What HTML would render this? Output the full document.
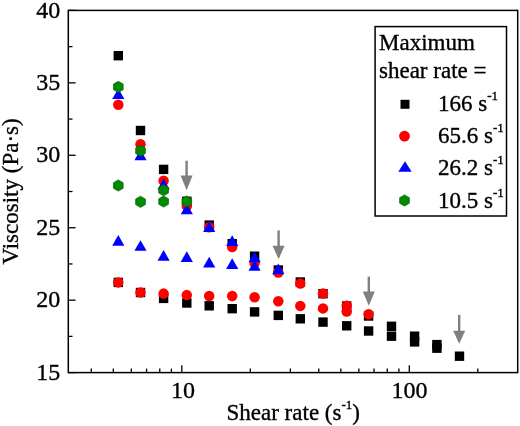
<!DOCTYPE html>
<html><head><meta charset="utf-8"><style>
html,body{margin:0;padding:0;background:#fff;}
svg{display:block;will-change:transform;}
text{font-family:"Liberation Serif",serif;font-size:23px;fill:#000;stroke:#000;stroke-width:0.35px;}
</style></head><body>
<svg width="520" height="426" viewBox="0 0 520 426">
<rect x="68.3" y="10.4" width="449.40000000000003" height="362.20000000000005" fill="none" stroke="#000" stroke-width="1.5"/>
<line x1="68.3" y1="372.60" x2="75.60" y2="372.60" stroke="#000" stroke-width="1.3"/>
<text x="60.3" y="379.70" text-anchor="end" style="font-size:24px">15</text>
<line x1="68.3" y1="300.16" x2="75.60" y2="300.16" stroke="#000" stroke-width="1.3"/>
<text x="60.3" y="307.26" text-anchor="end" style="font-size:24px">20</text>
<line x1="68.3" y1="227.72" x2="75.60" y2="227.72" stroke="#000" stroke-width="1.3"/>
<text x="60.3" y="234.82" text-anchor="end" style="font-size:24px">25</text>
<line x1="68.3" y1="155.28" x2="75.60" y2="155.28" stroke="#000" stroke-width="1.3"/>
<text x="60.3" y="162.38" text-anchor="end" style="font-size:24px">30</text>
<line x1="68.3" y1="82.84" x2="75.60" y2="82.84" stroke="#000" stroke-width="1.3"/>
<text x="60.3" y="89.94" text-anchor="end" style="font-size:24px">35</text>
<line x1="68.3" y1="10.40" x2="75.60" y2="10.40" stroke="#000" stroke-width="1.3"/>
<text x="60.3" y="17.50" text-anchor="end" style="font-size:24px">40</text>
<line x1="68.3" y1="336.38" x2="72.50" y2="336.38" stroke="#000" stroke-width="1.3"/>
<line x1="68.3" y1="263.94" x2="72.50" y2="263.94" stroke="#000" stroke-width="1.3"/>
<line x1="68.3" y1="191.50" x2="72.50" y2="191.50" stroke="#000" stroke-width="1.3"/>
<line x1="68.3" y1="119.06" x2="72.50" y2="119.06" stroke="#000" stroke-width="1.3"/>
<line x1="68.3" y1="46.62" x2="72.50" y2="46.62" stroke="#000" stroke-width="1.3"/>
<line x1="91.27" y1="372.6" x2="91.27" y2="368.60" stroke="#000" stroke-width="1.3"/>
<line x1="113.32" y1="372.6" x2="113.32" y2="368.60" stroke="#000" stroke-width="1.3"/>
<line x1="131.33" y1="372.6" x2="131.33" y2="368.60" stroke="#000" stroke-width="1.3"/>
<line x1="146.56" y1="372.6" x2="146.56" y2="368.60" stroke="#000" stroke-width="1.3"/>
<line x1="159.75" y1="372.6" x2="159.75" y2="368.60" stroke="#000" stroke-width="1.3"/>
<line x1="171.39" y1="372.6" x2="171.39" y2="368.60" stroke="#000" stroke-width="1.3"/>
<line x1="181.80" y1="372.6" x2="181.80" y2="365.30" stroke="#000" stroke-width="1.3"/>
<line x1="250.28" y1="372.6" x2="250.28" y2="368.60" stroke="#000" stroke-width="1.3"/>
<line x1="290.35" y1="372.6" x2="290.35" y2="368.60" stroke="#000" stroke-width="1.3"/>
<line x1="318.77" y1="372.6" x2="318.77" y2="368.60" stroke="#000" stroke-width="1.3"/>
<line x1="340.82" y1="372.6" x2="340.82" y2="368.60" stroke="#000" stroke-width="1.3"/>
<line x1="358.83" y1="372.6" x2="358.83" y2="368.60" stroke="#000" stroke-width="1.3"/>
<line x1="374.06" y1="372.6" x2="374.06" y2="368.60" stroke="#000" stroke-width="1.3"/>
<line x1="387.25" y1="372.6" x2="387.25" y2="368.60" stroke="#000" stroke-width="1.3"/>
<line x1="398.89" y1="372.6" x2="398.89" y2="368.60" stroke="#000" stroke-width="1.3"/>
<line x1="409.30" y1="372.6" x2="409.30" y2="365.30" stroke="#000" stroke-width="1.3"/>
<line x1="477.78" y1="372.6" x2="477.78" y2="368.60" stroke="#000" stroke-width="1.3"/>
<text x="182.9" y="398.4" text-anchor="middle" style="font-size:24px">10</text>
<text x="409.5" y="398.4" text-anchor="middle" style="font-size:24px">100</text>
<text x="226.5" y="419.8">Shear rate (s<tspan style="font-size:13px" dy="-11">-1</tspan><tspan dy="11">)</tspan></text>
<text transform="translate(17.5,264.5) rotate(-90)">Viscosity (Pa·s)</text>
<rect x="113.60" y="51.00" width="9.4" height="9.4" fill="#000"/>
<rect x="135.80" y="125.80" width="9.4" height="9.4" fill="#000"/>
<rect x="158.90" y="164.70" width="9.4" height="9.4" fill="#000"/>
<rect x="182.10" y="196.60" width="9.4" height="9.4" fill="#000"/>
<rect x="204.50" y="220.40" width="9.4" height="9.4" fill="#000"/>
<rect x="227.50" y="239.00" width="9.4" height="9.4" fill="#000"/>
<rect x="249.90" y="251.50" width="9.4" height="9.4" fill="#000"/>
<rect x="273.60" y="265.30" width="9.4" height="9.4" fill="#000"/>
<rect x="295.60" y="277.30" width="9.4" height="9.4" fill="#000"/>
<rect x="318.30" y="289.00" width="9.4" height="9.4" fill="#000"/>
<rect x="342.00" y="301.30" width="9.4" height="9.4" fill="#000"/>
<rect x="363.90" y="311.30" width="9.4" height="9.4" fill="#000"/>
<rect x="386.80" y="321.60" width="9.4" height="9.4" fill="#000"/>
<rect x="409.90" y="331.50" width="9.4" height="9.4" fill="#000"/>
<rect x="432.20" y="339.90" width="9.4" height="9.4" fill="#000"/>
<rect x="454.80" y="351.50" width="9.4" height="9.4" fill="#000"/>
<rect x="113.60" y="277.70" width="9.4" height="9.4" fill="#000"/>
<rect x="135.80" y="287.80" width="9.4" height="9.4" fill="#000"/>
<rect x="158.90" y="293.70" width="9.4" height="9.4" fill="#000"/>
<rect x="182.10" y="298.30" width="9.4" height="9.4" fill="#000"/>
<rect x="204.50" y="301.10" width="9.4" height="9.4" fill="#000"/>
<rect x="227.50" y="304.00" width="9.4" height="9.4" fill="#000"/>
<rect x="249.90" y="307.20" width="9.4" height="9.4" fill="#000"/>
<rect x="273.60" y="310.70" width="9.4" height="9.4" fill="#000"/>
<rect x="295.60" y="314.10" width="9.4" height="9.4" fill="#000"/>
<rect x="318.30" y="317.40" width="9.4" height="9.4" fill="#000"/>
<rect x="342.00" y="321.10" width="9.4" height="9.4" fill="#000"/>
<rect x="363.90" y="326.30" width="9.4" height="9.4" fill="#000"/>
<rect x="386.80" y="331.50" width="9.4" height="9.4" fill="#000"/>
<rect x="409.90" y="337.20" width="9.4" height="9.4" fill="#000"/>
<rect x="432.20" y="343.50" width="9.4" height="9.4" fill="#000"/>
<circle cx="118.30" cy="104.70" r="5.25" fill="#f00"/>
<circle cx="140.50" cy="144.20" r="5.25" fill="#f00"/>
<circle cx="163.60" cy="180.80" r="5.25" fill="#f00"/>
<circle cx="186.80" cy="206.00" r="5.25" fill="#f00"/>
<circle cx="209.20" cy="227.30" r="5.25" fill="#f00"/>
<circle cx="232.20" cy="247.00" r="5.25" fill="#f00"/>
<circle cx="254.60" cy="263.00" r="5.25" fill="#f00"/>
<circle cx="278.30" cy="272.50" r="5.25" fill="#f00"/>
<circle cx="300.30" cy="283.50" r="5.25" fill="#f00"/>
<circle cx="323.00" cy="293.50" r="5.25" fill="#f00"/>
<circle cx="346.70" cy="305.70" r="5.25" fill="#f00"/>
<circle cx="368.60" cy="314.20" r="5.25" fill="#f00"/>
<circle cx="118.30" cy="282.40" r="5.25" fill="#f00"/>
<circle cx="140.50" cy="292.50" r="5.25" fill="#f00"/>
<circle cx="163.60" cy="293.60" r="5.25" fill="#f00"/>
<circle cx="186.80" cy="295.10" r="5.25" fill="#f00"/>
<circle cx="209.20" cy="296.00" r="5.25" fill="#f00"/>
<circle cx="232.20" cy="296.00" r="5.25" fill="#f00"/>
<circle cx="254.60" cy="297.20" r="5.25" fill="#f00"/>
<circle cx="278.30" cy="301.20" r="5.25" fill="#f00"/>
<circle cx="300.30" cy="305.90" r="5.25" fill="#f00"/>
<circle cx="323.00" cy="308.40" r="5.25" fill="#f00"/>
<circle cx="346.70" cy="311.60" r="5.25" fill="#f00"/>
<polygon points="118.30,88.40 124.40,99.10 112.20,99.10" fill="#00f"/>
<polygon points="140.50,149.55 146.60,160.25 134.40,160.25" fill="#00f"/>
<polygon points="163.60,178.75 169.70,189.45 157.50,189.45" fill="#00f"/>
<polygon points="186.80,203.65 192.90,214.35 180.70,214.35" fill="#00f"/>
<polygon points="209.20,221.25 215.30,231.95 203.10,231.95" fill="#00f"/>
<polygon points="232.20,235.25 238.30,245.95 226.10,245.95" fill="#00f"/>
<polygon points="254.60,251.65 260.70,262.35 248.50,262.35" fill="#00f"/>
<polygon points="278.30,263.45 284.40,274.15 272.20,274.15" fill="#00f"/>
<polygon points="118.30,235.05 124.40,245.75 112.20,245.75" fill="#00f"/>
<polygon points="140.50,240.15 146.60,250.85 134.40,250.85" fill="#00f"/>
<polygon points="163.60,249.95 169.70,260.65 157.50,260.65" fill="#00f"/>
<polygon points="186.80,251.25 192.90,261.95 180.70,261.95" fill="#00f"/>
<polygon points="209.20,256.85 215.30,267.55 203.10,267.55" fill="#00f"/>
<polygon points="232.20,258.35 238.30,269.05 226.10,269.05" fill="#00f"/>
<polygon points="254.60,260.15 260.70,270.85 248.50,270.85" fill="#00f"/>
<polygon points="118.30,81.30 113.45,84.10 113.45,89.70 118.30,92.50 123.15,89.70 123.15,84.10" fill="#008a00" stroke="#006400" stroke-width="0.7"/>
<polygon points="140.50,145.10 135.65,147.90 135.65,153.50 140.50,156.30 145.35,153.50 145.35,147.90" fill="#008a00" stroke="#006400" stroke-width="0.7"/>
<polygon points="163.60,184.60 158.75,187.40 158.75,193.00 163.60,195.80 168.45,193.00 168.45,187.40" fill="#008a00" stroke="#006400" stroke-width="0.7"/>
<polygon points="186.80,195.90 181.95,198.70 181.95,204.30 186.80,207.10 191.65,204.30 191.65,198.70" fill="#008a00" stroke="#006400" stroke-width="0.7"/>
<polygon points="118.30,179.90 113.45,182.70 113.45,188.30 118.30,191.10 123.15,188.30 123.15,182.70" fill="#008a00" stroke="#006400" stroke-width="0.7"/>
<polygon points="140.50,196.20 135.65,199.00 135.65,204.60 140.50,207.40 145.35,204.60 145.35,199.00" fill="#008a00" stroke="#006400" stroke-width="0.7"/>
<polygon points="163.60,195.90 158.75,198.70 158.75,204.30 163.60,207.10 168.45,204.30 168.45,198.70" fill="#008a00" stroke="#006400" stroke-width="0.7"/>
<rect x="185.40" y="160.70" width="2.4" height="15.70" fill="#808080"/><polygon points="180.60,175.40 192.60,175.40 186.60,190.20" fill="#808080"/>
<rect x="277.40" y="230.40" width="2.4" height="16.40" fill="#808080"/><polygon points="272.60,245.80 284.60,245.80 278.60,259.20" fill="#808080"/>
<rect x="367.60" y="276.60" width="2.4" height="16.00" fill="#808080"/><polygon points="362.80,291.60 374.80,291.60 368.80,305.70" fill="#808080"/>
<rect x="458.00" y="314.90" width="2.4" height="16.80" fill="#808080"/><polygon points="453.20,330.70 465.20,330.70 459.20,343.80" fill="#808080"/>
<rect x="375.1" y="26.6" width="131.4" height="189.4" fill="#fff" stroke="#000" stroke-width="1.5"/>
<text x="379" y="49.8">Maximum</text>
<text x="379" y="77.5">shear rate =</text>
<text x="438" y="111.3">166 s<tspan style="font-size:13px" dy="-11.5">-1</tspan></text>
<text x="438" y="143.3">65.6 s<tspan style="font-size:13px" dy="-11.5">-1</tspan></text>
<text x="438" y="175.0">26.2 s<tspan style="font-size:13px" dy="-11.5">-1</tspan></text>
<text x="438" y="208.4">10.5 s<tspan style="font-size:13px" dy="-11.5">-1</tspan></text>
<rect x="400.50" y="99.80" width="9.0" height="9.0" fill="#000"/>
<circle cx="404.50" cy="136.10" r="5.4" fill="#f00"/>
<polygon points="405.00,161.15 411.70,171.85 398.30,171.85" fill="#00f"/>
<polygon points="404.50,194.90 399.65,197.70 399.65,203.30 404.50,206.10 409.35,203.30 409.35,197.70" fill="#008a00" stroke="#006400" stroke-width="0.7"/>
</svg>
</body></html>
